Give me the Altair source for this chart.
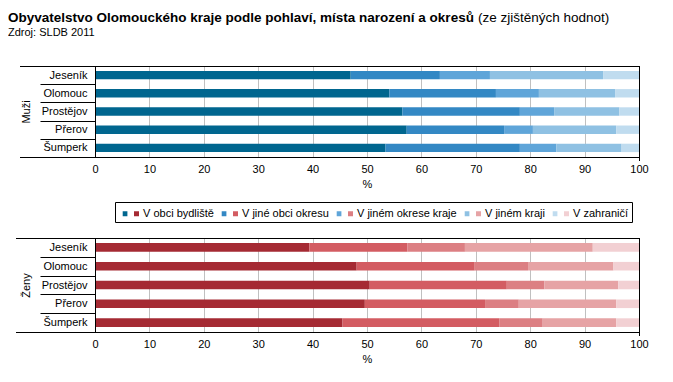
import altair as alt
import pandas as pd

# ---- data (percent) ----
districts = ["Jeseník", "Olomouc", "Prostějov", "Přerov", "Šumperk"]
origins = ["V obci bydliště", "V jiné obci okresu", "V jiném okrese kraje",
           "V jiném kraji", "V zahraničí"]

men_v_obci = [47.0, 54.1, 56.5, 57.3, 53.4]
men_v_okresu = [16.4, 19.6, 21.6, 17.9, 24.7]
men_v_kraji = [9.2, 7.9, 6.3, 5.3, 6.7]
men_jiny_kraj = [20.8, 14.0, 12.0, 15.3, 12.0]
men_zahranici = [6.6, 4.4, 3.6, 4.2, 3.2]

women_v_obci = [39.4, 48.1, 50.5, 49.6, 45.5]
women_v_okresu = [18.0, 21.7, 25.2, 22.1, 28.8]
women_v_kraji = [10.6, 9.8, 6.9, 6.2, 8.0]
women_jiny_kraj = [23.5, 15.7, 13.6, 17.9, 13.5]
women_zahranici = [8.5, 4.7, 3.8, 4.2, 4.2]

x_ticks = [0, 10, 20, 30, 40, 50, 60, 70, 80, 90, 100]

blues = ["#00668f", "#3388c4", "#5fa5d9", "#8fc1e3", "#c0dcef"]
reds = ["#a52a33", "#d35c62", "#dc7f83", "#e6a3a5", "#f2d0d3"]

TITLE = "Obyvatelstvo Olomouckého kraje podle pohlaví, místa narození a okresů"
TITLE_NOTE = "(ze zjištěných hodnot)"
SOURCE = "Zdroj: SLDB 2011"

FONT = "Liberation Sans"
W = 544
H_TOP = 91
H_BOT = 94


def to_frame(series):
    rows = []
    for k, (origin, vals) in enumerate(zip(origins, series)):
        for d, v in zip(districts, vals):
            rows.append({"okres": d, "misto": origin, "poradi": k, "podil": v})
    return pd.DataFrame(rows)


men_df = to_frame([men_v_obci, men_v_okresu, men_v_kraji, men_jiny_kraj, men_zahranici])
women_df = to_frame([women_v_obci, women_v_okresu, women_v_kraji, women_jiny_kraj, women_zahranici])

# legend symbols: one square each, so two overlaid legends show the pair
BLUE_SYM = "M-0.447,-0.294H0.106V0.294H-0.447Z"
RED_SYM = "M0.882,-0.294H1.47V0.294H0.882Z"


def make_legend(sym, y, visible_text):
    return alt.Legend(
        title=None, orient="none", legendX=20, legendY=y,
        direction="horizontal", columns=5,
        symbolType=sym, symbolSize=289, symbolStrokeWidth=0, symbolOpacity=1,
        labelFont=FONT, labelFontSize=11, labelColor="black",
        labelOpacity=1 if visible_text else 0,
        labelOffset=8, columnPadding=3, padding=3,
        strokeColor="black" if visible_text else "transparent",
    )


def panel(df, colors, sex, h, legend, left_ext):
    one = alt.Data(values=[{}])
    bar_size = round(h / 5 * 0.46, 1)
    bars = alt.Chart(df).mark_bar(size=bar_size).encode(
        x=alt.X("podil:Q", stack="zero",
                scale=alt.Scale(domain=[0, 100], nice=False),
                axis=alt.Axis(values=x_ticks, title="%", format="d",
                              grid=True, gridColor="#c0c0c0", gridWidth=1,
                              domain=False, ticks=False, labelFlush=False,
                              labelPadding=6, titlePadding=4,
                              labelFont=FONT, labelFontSize=11, labelColor="black",
                              titleFont=FONT, titleFontSize=11, titleFontWeight="normal",
                              titleColor="black")),
        y=alt.Y("okres:N", sort=districts,
                scale=alt.Scale(paddingInner=0, paddingOuter=0),
                axis=alt.Axis(title=sex, tickBand="extent", tickSize=55,
                              tickColor="black", tickWidth=1,
                              domainColor="black", domainWidth=1,
                              labelPadding=-47, labelAlign="right",
                              labelFont=FONT, labelFontSize=11, labelColor="black",
                              titleFont=FONT, titleFontSize=11, titleFontWeight="normal",
                              titleColor="black", titleAngle=270,
                              titleX=-69, titleY=h / 2,
                              titleAlign="center", titleBaseline="middle",
                              grid=False, zindex=1)),
        color=alt.Color("misto:N", sort=origins,
                        scale=alt.Scale(domain=origins, range=colors),
                        legend=legend),
        order=alt.Order("poradi:Q"),
        tooltip=["okres:N", "misto:N", "podil:Q"],
    )
    top_rule = alt.Chart(one).mark_rule(color="black", strokeWidth=1).encode(
        x=alt.value(left_ext), x2=alt.value(W + 0.5), y=alt.value(0.5))
    bottom_rule = alt.Chart(one).mark_rule(color="black", strokeWidth=1).encode(
        x=alt.value(left_ext), x2=alt.value(W + 0.5), y=alt.value(h + 0.5))
    right_rule = alt.Chart(one).mark_rule(color="black", strokeWidth=1).encode(
        x=alt.value(W + 0.5), y=alt.value(0), y2=alt.value(h + 4))
    return [bars, top_rule, bottom_rule, right_rule]


top_layers = panel(men_df, blues, "Muži", H_TOP,
                   make_legend(BLUE_SYM, 136, True), -75)
bottom_layers = panel(women_df, reds, "Ženy", H_BOT,
                      make_legend(RED_SYM, -36, False), -79)

title_txt = alt.Chart(alt.Data(values=[{"t": TITLE}])).mark_text(
    font=FONT, fontSize=13.5, fontWeight="bold", align="left",
    baseline="alphabetic", color="black").encode(
    x=alt.value(-87), y=alt.value(-44), text="t:N")
note_txt = alt.Chart(alt.Data(values=[{"t": TITLE_NOTE}])).mark_text(
    font=FONT, fontSize=13.5, fontWeight="normal", align="left",
    baseline="alphabetic", color="black").encode(
    x=alt.value(-87 + 470), y=alt.value(-44), text="t:N")
source_txt = alt.Chart(alt.Data(values=[{"t": SOURCE}])).mark_text(
    font=FONT, fontSize=11, fontWeight="normal", align="left",
    baseline="alphabetic", color="black").encode(
    x=alt.value(-87), y=alt.value(-30), text="t:N")

top = alt.layer(*top_layers, title_txt, note_txt, source_txt).properties(
    width=W, height=H_TOP)
bottom = alt.layer(*bottom_layers).properties(width=W, height=H_BOT)

chart = alt.vconcat(top, bottom, spacing=81, bounds="flush").resolve_scale(
    color="independent").properties(
    padding={"top": 3, "left": 0, "right": 0, "bottom": 0}).configure_view(
    stroke=None).configure_legend(strokeWidth=1)

chart.save("out.html", embed_options={"renderer": "svg", "actions": False})
